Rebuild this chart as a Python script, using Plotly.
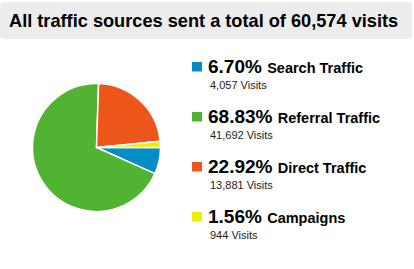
import plotly.graph_objects as go

W, H = 414, 269

labels = ["Search Traffic", "Referral Traffic", "Direct Traffic", "Campaigns"]
visits = [4057, 41692, 13881, 944]
colors = ["#058DC7", "#50B432", "#ED561B", "#EDEF00"]

total = sum(visits)

def px(x):
    return x / W

def py(y):
    return 1 - y / H

FONT = "Arial, Liberation Sans, sans-serif"

fig = go.Figure()

# pie: center (96.5,147.5), radius 64
cx, cy, r = 96.5, 147.5, 64
fig.add_trace(go.Pie(
    labels=labels,
    values=visits,
    marker=dict(colors=colors, line=dict(color="white", width=1.5)),
    sort=False,
    direction="clockwise",
    rotation=90,
    textinfo="none",
    hoverinfo="label+percent+value",
    showlegend=False,
    domain=dict(x=[px(cx - r), px(cx + r)], y=[py(cy + r), py(cy - r)]),
))

shapes = []
annotations = []

# title background (rounded)
x0, y0, x1, y1, rr = 0, 2, 412, 39, 4
path = (f"M {px(x0+rr)},{py(y0)} L {px(x1-rr)},{py(y0)} "
        f"Q {px(x1)},{py(y0)} {px(x1)},{py(y0+rr)} L {px(x1)},{py(y1-rr)} "
        f"Q {px(x1)},{py(y1)} {px(x1-rr)},{py(y1)} L {px(x0+rr)},{py(y1)} "
        f"Q {px(x0)},{py(y1)} {px(x0)},{py(y1-rr)} L {px(x0)},{py(y0+rr)} "
        f"Q {px(x0)},{py(y0)} {px(x0+rr)},{py(y0)} Z")
shapes.append(dict(type="path", xref="paper", yref="paper", path=path,
                   fillcolor="#ECECEC", line=dict(width=0), layer="below"))

annotations.append(dict(
    x=px(6.5), y=py(21.5), xref="paper", yref="paper", xanchor="left", yanchor="middle",
    text=f"<b>All traffic sources sent a total of {total:,} visits</b>",
    showarrow=False, font=dict(family=FONT, size=18.2, color="#000000"),
))

row0 = 66
for i, (lab, v, c) in enumerate(zip(labels, visits, colors)):
    yc = row0 + 50 * i
    shapes.append(dict(type="rect", xref="paper", yref="paper",
                       x0=px(192), x1=px(202), y0=py(yc - 4), y1=py(yc + 5.5),
                       fillcolor=c, line=dict(width=0)))
    pct = v / total * 100
    annotations.append(dict(
        x=px(206), y=py(yc), xref="paper", yref="paper", xanchor="left", yanchor="middle",
        text=f"<b>{pct:.2f}% <span style='font-size:14.5px'>{lab}</span></b>",
        showarrow=False, font=dict(family=FONT, size=19, color="#000000"),
    ))
    annotations.append(dict(
        x=px(208), y=py(yc + 19), xref="paper", yref="paper", xanchor="left", yanchor="middle",
        text=f"{v:,} Visits",
        showarrow=False, font=dict(family=FONT, size=11, color="#222222"),
    ))

fig.update_layout(
    width=W, height=H,
    margin=dict(l=0, r=0, t=0, b=0),
    paper_bgcolor="white", plot_bgcolor="white",
    shapes=shapes, annotations=annotations,
)

fig.write_html("out.html")
